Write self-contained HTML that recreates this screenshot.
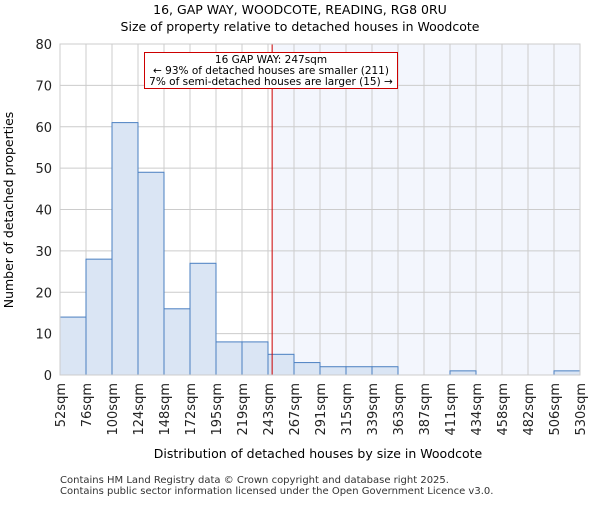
<!DOCTYPE html><html><head><meta charset="utf-8"><style>body{margin:0;background:#fff}svg{font-family:"DejaVu Sans","Liberation Sans",sans-serif}</style></head><body>
<svg id="c" width="600" height="500" xmlns="http://www.w3.org/2000/svg"></svg>
<script>
const edges=["52sqm","76sqm","100sqm","124sqm","148sqm","172sqm","195sqm","219sqm","243sqm","267sqm","291sqm","315sqm","339sqm","363sqm","387sqm","411sqm","434sqm","458sqm","482sqm","506sqm","530sqm"];
const counts=[14,28,61,49,16,27,8,8,5,3,2,2,2,0,0,1,0,0,0,1];
const yTicks=[0,10,20,30,40,50,60,70,80];
const marker=247;
const L=60,R=580,T=44,B=375,NS="http://www.w3.org/2000/svg";
const s=document.getElementById('c');
const bw=(R-L)/counts.length;
const x=i=>L+i*bw;
const y=v=>B-(v/80)*(B-T);
const xv=v=>L+(v-52)/(530-52)*(R-L);
function el(t,a,txt){const e=document.createElementNS(NS,t);for(const k in a)e.setAttribute(k,a[k]);if(txt!==undefined)e.textContent=txt;s.appendChild(e);return e;}
let e;
e=el('rect',{x:L,y:T,width:R-L,height:B-T,fill:'#fff'});


const mx=xv(marker);
e=el('rect',{x:mx,y:T,width:R-mx,height:B-T,fill:'#f3f6fd'});


yTicks.forEach(v=>{e=el('line',{x1:L,x2:R,y1:y(v),y2:y(v),stroke:'#ccc','stroke-width':1});


e=el('text',{x:L-8,y:y(v)+5,'text-anchor':'end','font-size':13,fill:'#222'},v);

});
edges.forEach((lab,i)=>{e=el('line',{x1:x(i),x2:x(i),y1:T,y2:B,stroke:'#ccc','stroke-width':1});


e=el('text',{transform:`translate(${x(i)+5},${B+8}) rotate(-90)`,'text-anchor':'end','font-size':13,fill:'#222'},lab);

});
counts.forEach((c,i)=>{if(c<=0)return;e=el('rect',{x:x(i),y:y(c),width:bw,height:B-y(c),fill:'#dae5f4',stroke:'#4a7fc1','stroke-width':1});

});
e=el('line',{x1:mx,x2:mx,y1:T,y2:B,stroke:'#c00','stroke-width':1});


e=el('rect',{x:144.5,y:52.5,width:253,height:36,fill:'#fff',stroke:'#c00','stroke-width':1});


[["16 GAP WAY: 247sqm",63],["← 93% of detached houses are smaller (211)",74],["7% of semi-detached houses are larger (15) →",85]].forEach(a=>{e=el('text',{x:271,y:a[1],'text-anchor':'middle','font-size':10.5,fill:'#000'},a[0]);

});
e=el('rect',{x:L,y:T,width:R-L,height:B-T,fill:'none',stroke:'#ccc'});


e=el('text',{x:300,y:14,'text-anchor':'middle','font-size':12.5,fill:'#000'},"16, GAP WAY, WOODCOTE, READING, RG8 0RU");


e=el('text',{x:300,y:31,'text-anchor':'middle','font-size':12.5,fill:'#000'},"Size of property relative to detached houses in Woodcote");


e=el('text',{x:318,y:458,'text-anchor':'middle','font-size':12.5,fill:'#000'},"Distribution of detached houses by size in Woodcote");


e=el('text',{transform:'translate(13,210) rotate(-90)','text-anchor':'middle','font-size':12.5,fill:'#000'},"Number of detached properties");


e=el('text',{x:60,y:483,'font-size':10,fill:'#333'},"Contains HM Land Registry data © Crown copyright and database right 2025.");


e=el('text',{x:60,y:494,'font-size':10,fill:'#333'},"Contains public sector information licensed under the Open Government Licence v3.0.");


</script></body></html>
